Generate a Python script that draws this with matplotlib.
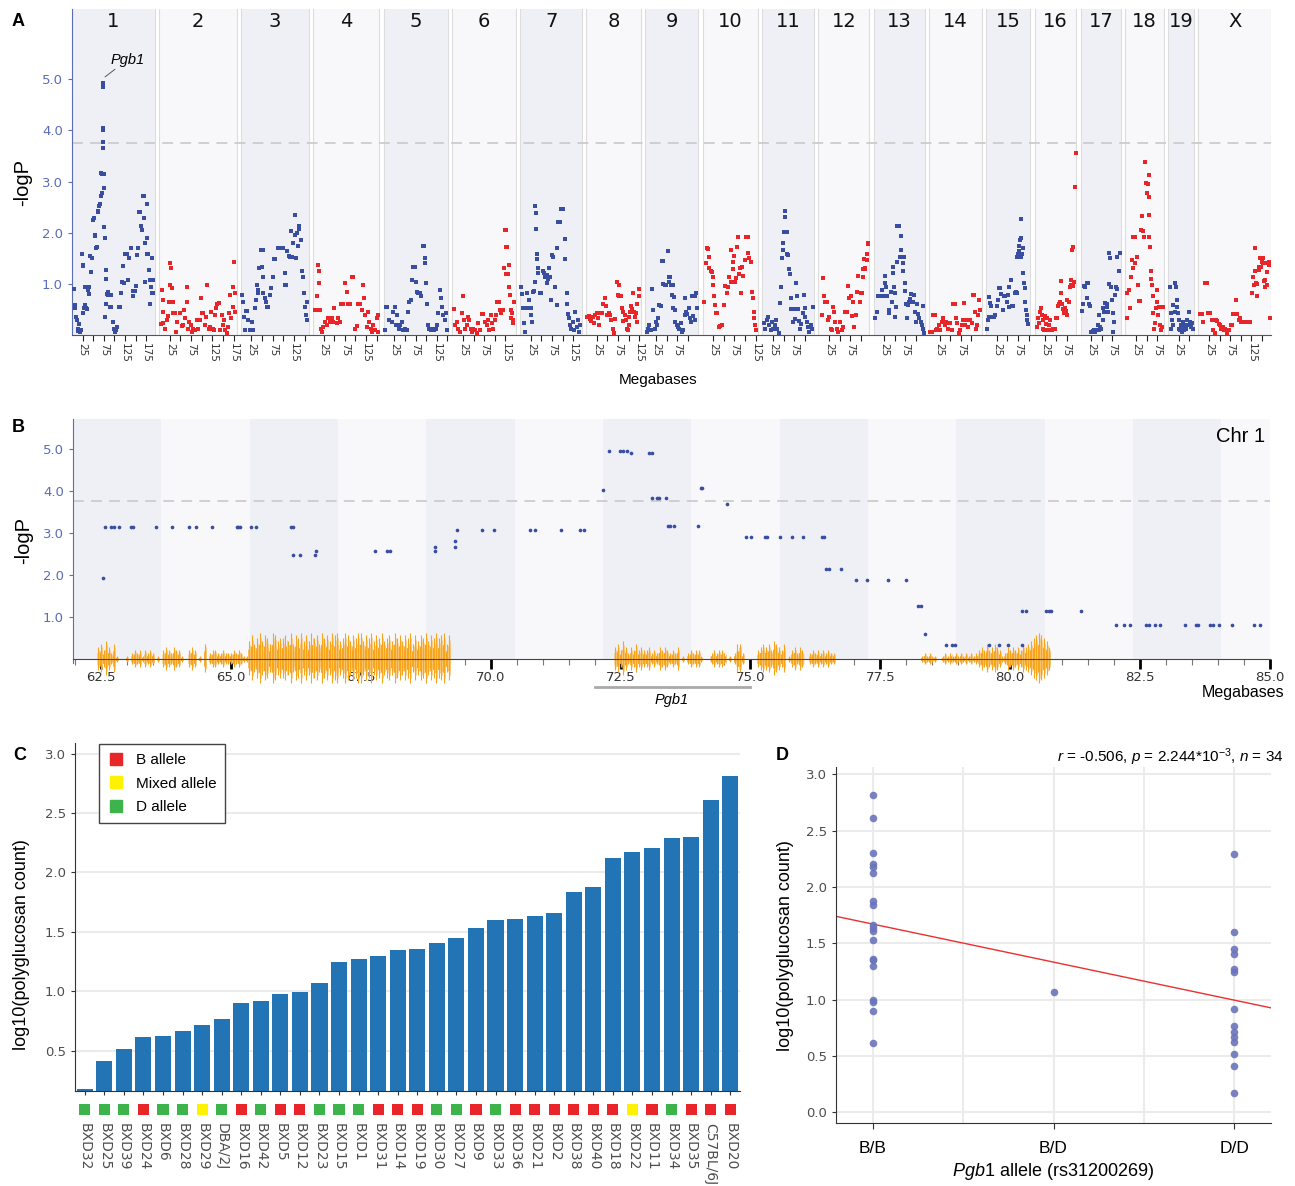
import numpy as np
import matplotlib.pyplot as plt
from matplotlib.lines import Line2D
from matplotlib.transforms import blended_transform_factory

plt.rcParams['font.family'] = 'Liberation Sans'
plt.rcParams['mathtext.fontset'] = 'custom'
plt.rcParams['mathtext.rm'] = 'Liberation Sans'
plt.rcParams['mathtext.it'] = 'Liberation Sans:italic'
plt.rcParams['mathtext.bf'] = 'Liberation Sans:bold'

# ---------------- panel A: genome-wide scan (Mb within chromosome, -logP) ----------------
chr_names = ['1', '2', '3', '4', '5', '6', '7', '8', '9', '10',
             '11', '12', '13', '14', '15', '16', '17', '18', '19', 'X']
chr_len = [195.5, 182.1, 160.0, 156.5, 151.8, 149.7, 145.4, 129.4, 124.6, 130.7,
           122.1, 120.1, 120.4, 124.9, 104.0, 98.2, 95.3, 90.7, 61.4, 171.0]
chr_side = ['B', 'D', 'B', 'D', 'B', 'D', 'B', 'D', 'B', 'D',
            'B', 'D', 'B', 'D', 'B', 'D', 'B', 'D', 'B', 'D']

chr1 = [(4.7, 0.90), (6, 0.52), (8, 0.58), (10, 0.35), (11, 0.28), (13, 0.12), (15, 0.08), (17, 0.20),
        (19, 0.05), (21, 0.10), (23.5, 1.59), (25, 1.35), (26, 1.36), (27, 0.42), (29, 0.52), (30.5, 0.94),
        (31.5, 0.58), (33, 0.52), (35, 0.50), (37.5, 0.88), (39, 0.79), (41, 0.93), (42.3, 1.54), (44, 1.22),
        (46, 1.51), (48.5, 2.25), (50, 2.25), (52, 2.28), (53.5, 1.95), (55, 1.93), (57, 1.70), (58, 1.71),
        (60.5, 2.41), (62, 2.43), (64, 2.53), (66, 2.56), (67.5, 2.71), (68, 3.16), (70, 3.15), (70.5, 2.78),
        (72, 4.00), (72.5, 4.05), (73, 3.78), (73.3, 3.65), (73.6, 4.86), (73.8, 4.93), (74.5, 3.15),
        (75.5, 2.88), (75, 2.10), (77, 1.89), (79, 1.27), (80, 1.10), (78, 0.35), (80.5, 0.60), (82, 0.80),
        (84, 0.77), (85.5, 0.84), (89.5, 0.55), (91, 0.78), (92.6, 0.55), (96, 0.24), (99, 0.12), (101, 0.05),
        (103, 0.09), (105, 0.16), (110, 0.54), (112, 0.54), (116, 0.81), (117.7, 1.04), (120.8, 1.35),
        (122.4, 1.02), (124.8, 1.59), (127.1, 1.59), (130.3, 1.59), (132.6, 1.07), (135, 1.50), (138.1, 1.69),
        (142.8, 0.76), (144.4, 0.86), (147.5, 0.86), (150.7, 0.95), (153.8, 1.56), (155.4, 1.69), (157, 2.41),
        (160.1, 2.41), (163.2, 2.12), (164.8, 2.05), (166.4, 2.71), (169.5, 2.71), (170.3, 2.28), (172.7, 1.79),
        (172.7, 1.04), (175.8, 2.56), (175.8, 1.59), (177.4, 1.89), (179.7, 1.59), (182.1, 1.27), (183.7, 1.08),
        (183.7, 0.61), (185.2, 0.94), (187.6, 1.50), (188.4, 0.81), (191.5, 0.81), (191.5, 1.07)]
chr2 = [(3.9, 0.21), (7, 0.88), (8.7, 0.67), (9.5, 0.45), (9.5, 0.22), (13.4, 0.12), (17.3, 0.29), (21.3, 0.37),
        (23.6, 0.65), (25.2, 1.40), (25.2, 0.97), (26.8, 1.30), (29.1, 0.91), (31.5, 0.65), (33, 0.42), (37, 0.42),
        (39.3, 0.06), (42.4, 0.25), (48.7, 0.42), (52.6, 0.17), (55, 0.19), (58.1, 0.48), (61.3, 0.32),
        (64.4, 0.65), (66, 0.94), (68.3, 0.12), (70.7, 0.25), (73.8, 0.19), (77, 0.06), (80.1, 0.12), (84, 0.09),
        (88, 0.29), (91.9, 0.12), (95.8, 0.29), (98.2, 0.71), (100.5, 0.42), (103.7, 0.42), (106.8, 0.19),
        (109.9, 0.35), (113.1, 0.97), (116.2, 0.12), (119.4, 0.16), (122.5, 0.45), (125.6, 0.12), (128.8, 0.09),
        (131.1, 0.39), (133.5, 0.52), (136.6, 0.61), (139.8, 0.63), (142.9, 0.09), (146.8, 0.39), (149.2, 0.19),
        (152.3, 0.29), (155.5, 0.09), (158.6, 0.03), (161.7, 0.16), (164.9, 0.43), (166.5, 0.78), (169.6, 0.32),
        (172.7, 0.94), (174.3, 0.55), (175.9, 1.43), (177.4, 0.45), (179, 0.81)]
chr3 = [(2.8, 0.78), (4.4, 0.65), (7.5, 0.35), (9.9, 0.09), (12.2, 0.47), (15.4, 0.47), (17.7, 0.29), (21.7, 0.09),
        (25.6, 0.25), (29.5, 0.09), (32.6, 0.52), (35.8, 0.68), (37.4, 0.97), (39.7, 0.88), (41.3, 0.81),
        (43.6, 1.30), (46.8, 1.66), (51.5, 1.65), (49.9, 1.33), (51.5, 1.14), (53.1, 0.81), (56.2, 0.71),
        (59.3, 0.65), (60.9, 0.54), (64.8, 0.54), (68.8, 0.78), (70.3, 0.91), (75, 1.14), (78.2, 1.48),
        (81.3, 1.48), (87.6, 1.69), (92.3, 1.69), (97, 1.69), (100.2, 1.69), (103.3, 0.97), (106.4, 0.97),
        (104.9, 1.20), (109.6, 1.63), (112.7, 1.54), (115.9, 1.53), (118.2, 2.04), (120.6, 1.53), (123.7, 1.79),
        (126.9, 2.35), (128.4, 1.95), (130, 1.50), (131.6, 1.99), (133.9, 1.73), (136.3, 2.07), (137.8, 2.12),
        (141, 1.86), (144.1, 1.24), (145.7, 1.14), (148.8, 0.81), (152, 0.55), (153.5, 0.39), (155.1, 0.65),
        (155.9, 0.29)]
chr4 = [(4.7, 0.48), (8.7, 0.75), (10.2, 0.48), (12.6, 1.37), (13.4, 1.24), (15, 1.01), (16.5, 0.48), (18.1, 0.12),
        (21.3, 0.06), (24.4, 0.16), (28.3, 0.25), (32.2, 0.19), (36.1, 0.32), (40.1, 0.25), (44, 0.32),
        (47.9, 0.25), (49.5, 0.52), (55.8, 0.22), (59.7, 0.32), (63.6, 0.25), (66.7, 0.61), (71.5, 0.61),
        (76.2, 1.01), (79.3, 0.84), (83.2, 0.60), (87.2, 0.60), (91.1, 1.14), (95, 1.14), (98.2, 0.12),
        (102.9, 0.17), (106.8, 0.60), (110.7, 0.60), (114.6, 0.48), (118.6, 0.97), (120.1, 0.71), (122.5, 0.39),
        (126.4, 0.16), (130.3, 0.45), (132.7, 0.25), (135.8, 0.12), (139, 0.06), (142.1, 0.19), (146, 0.09),
        (150, 0.32), (152.3, 0.39), (153.1, 0.06)]
chr5 = [(3.1, 0.09), (5.4, 0.55), (8.5, 0.55), (13.2, 0.29), (18.8, 0.25), (22.6, 0.45), (26.6, 0.55), (29, 0.19),
        (32, 0.39), (35.3, 0.12), (38.4, 0.19), (42.4, 0.25), (46.2, 0.09), (50.2, 0.12), (54.2, 0.09),
        (57.9, 0.45), (60.3, 0.65), (63.6, 0.68), (66.6, 1.07), (69.7, 1.33), (73, 1.33), (76.1, 1.04),
        (77.7, 0.84), (81.5, 0.81), (85.5, 0.81), (88.5, 0.75), (91.8, 1.74), (94.9, 1.74), (96.6, 1.50),
        (98, 1.40), (99.6, 1.01), (101.3, 0.61), (104.3, 0.19), (107.4, 0.12), (110.7, 0.09), (113, 0.12),
        (118.5, 0.09), (123.2, 0.12), (126.3, 0.19), (128.6, 0.42), (132.6, 0.88), (135, 0.71), (137.3, 0.55),
        (140.4, 0.39), (143.7, 0.29), (146.7, 0.42), (148.4, 0.09)]
chr6 = [(3.7, 0.50), (6.1, 0.19), (10, 0.25), (14, 0.12), (17.9, 0.06), (21.8, 0.42), (24.1, 0.76), (27.3, 0.29),
        (30.4, 0.12), (33.6, 0.19), (37.5, 0.35), (39.8, 0.29), (43, 0.12), (46.1, 0.06), (49.3, 0.12),
        (53.2, 0.09), (57.1, 0.04), (61, 0.22), (65, 0.09), (68.9, 0.41), (72.8, 0.41), (76.7, 0.24),
        (80.7, 0.19), (84.6, 0.29), (86.9, 0.09), (90.1, 0.39), (93.2, 0.22), (96.4, 0.12), (99.5, 0.29),
        (102.6, 0.39), (105.8, 0.65), (108.9, 0.65), (112.1, 0.48), (115.2, 0.42), (118.3, 0.48), (121.5, 1.30),
        (123, 2.05), (126.2, 2.05), (127, 1.71), (129.3, 1.71), (126.2, 1.19), (131.7, 1.19), (132.5, 1.37),
        (134, 0.93), (135.6, 0.78), (137.2, 0.48), (138.7, 0.32), (140.3, 0.42), (141.9, 0.22), (143.5, 0.29),
        (145, 0.65)]
chr7 = [(1.9, 0.93), (4.3, 0.80), (5.8, 0.52), (9, 0.22), (11.3, 0.06), (13.7, 0.52), (16.8, 0.81), (20, 0.68),
        (21.5, 0.52), (24.7, 0.52), (26.2, 0.39), (27, 0.25), (29.4, 0.84), (32.5, 0.86), (35.7, 1.04),
        (35.7, 2.52), (37.2, 2.38), (37.2, 2.08), (38.8, 1.48), (40.4, 1.59), (42.7, 1.30), (42.7, 1.20),
        (46.7, 0.81), (49.8, 0.81), (53, 1.24), (56.1, 1.20), (59.2, 1.14), (62.4, 1.17), (63.9, 1.01),
        (66.3, 1.10), (68.6, 1.30), (70.2, 1.14), (71.8, 0.68), (74.1, 1.56), (78.1, 1.53), (82.8, 0.94),
        (85.9, 1.69), (85.9, 0.58), (89, 2.20), (93.8, 2.20), (95.3, 2.46), (101.6, 2.46), (104.7, 1.88),
        (106.3, 1.48), (109.5, 0.81), (111, 0.61), (112.6, 0.41), (115.7, 0.32), (117.3, 0.19), (120.4, 0.12),
        (123.6, 0.25), (126.7, 0.09), (129.9, 0.45), (133, 0.16), (136.1, 0.29), (139.3, 0.06), (140.9, 0.19)]
chr8 = [(2.7, 0.34), (5.9, 0.37), (9, 0.30), (12.1, 0.27), (15.3, 0.35), (18.4, 0.22), (21.6, 0.39), (24.7, 0.43),
        (27.8, 0.32), (31, 0.19), (34.1, 0.43), (37.3, 0.43), (40.4, 0.61), (43.5, 0.71), (46.7, 0.56),
        (49.8, 0.39), (53, 0.42), (56.1, 0.39), (59.2, 0.29), (62.4, 0.12), (65.5, 0.04), (68.7, 0.30),
        (71.8, 1.04), (74.9, 0.78), (76.5, 0.97), (78.1, 0.76), (81.3, 0.76), (83.6, 0.52), (86, 0.45),
        (87.5, 0.27), (90.6, 0.39), (93.8, 0.29), (95.4, 0.12), (98.5, 0.09), (100.1, 0.35), (101.6, 0.19),
        (103.2, 0.45), (106.4, 0.56), (107.9, 0.50), (111.1, 0.81), (112.6, 0.45), (114.2, 0.34), (117.3, 0.42),
        (118.9, 0.25), (120.5, 0.61), (123.6, 0.75), (125.2, 0.89)]
chr9 = [(3, 0.06), (6.1, 0.12), (9.2, 0.19), (12.4, 0.09), (15.5, 0.89), (18.7, 0.48), (21.8, 0.12), (25, 0.25),
        (28.1, 0.19), (30.5, 0.32), (32.8, 0.58), (36, 0.56), (39.1, 1.45), (42.2, 1.45), (42.2, 0.99),
        (45.3, 0.97), (48.5, 0.97), (53.2, 1.63), (54.8, 1.14), (56.3, 1.04), (57.9, 1.14), (61.1, 0.97),
        (62.6, 0.78), (64.2, 0.97), (65.8, 0.52), (67.3, 0.73), (68.9, 0.48), (70.5, 0.25), (73.6, 0.19),
        (76.8, 0.16), (79.9, 0.12), (83, 0.22), (86.2, 0.06), (89.3, 0.09), (92.4, 0.39), (94, 0.71),
        (95.6, 0.45), (98.7, 0.41), (101.9, 0.52), (105, 0.32), (108.1, 0.25), (109.7, 0.76), (112.9, 0.37),
        (116, 0.29), (117.6, 0.75), (119.1, 0.82), (120.7, 0.52)]
chr10 = [(3.6, 0.65), (7.5, 1.40), (9.9, 1.69), (13, 1.67), (14.6, 1.53), (16.1, 1.30), (19.3, 1.25), (21.6, 1.22),
         (24, 1.14), (25.6, 0.97), (27.9, 0.76), (29.5, 0.58), (31.8, 0.42), (35, 0.42), (38.1, 0.16),
         (41.3, 0.17), (46, 0.19), (50.7, 0.58), (53.8, 0.95), (57, 0.81), (60.1, 0.94), (63.3, 1.14),
         (66.4, 1.04), (68, 1.65), (71.1, 1.28), (72.7, 1.43), (74.2, 1.54), (76.6, 1.04), (79, 1.12),
         (81.3, 1.71), (84.4, 1.91), (86.8, 1.19), (88.4, 1.30), (89.9, 0.81), (93.1, 1.33), (96.2, 1.15),
         (99.3, 1.46), (102.5, 1.91), (106.4, 1.92), (108, 1.61), (110.3, 1.50), (113.5, 1.43), (116.6, 0.84),
         (119, 0.71), (120.6, 0.45), (122.1, 0.32), (123.7, 0.19), (126, 0.09)]
chr11 = [(4, 0.22), (7.1, 0.12), (10.3, 0.29), (13.4, 0.35), (16.5, 0.19), (19.7, 0.09), (22.8, 0.25), (26, 0.12),
         (29.1, 0.19), (32.2, 0.29), (35.4, 0.12), (38.5, 0.04), (41.7, 0.63), (44.8, 0.94), (46.4, 1.50),
         (48, 1.66), (49.5, 1.80), (51.1, 2.02), (52.6, 2.30), (54.2, 2.43), (55.8, 2.02), (57.4, 2.02),
         (58.9, 1.59), (61.3, 1.56), (62.1, 1.28), (65.2, 1.19), (66.8, 0.71), (68.4, 0.50), (71.5, 0.25),
         (74.6, 0.50), (77.8, 0.30), (79.3, 1.01), (82.5, 0.76), (84.1, 0.50), (85.6, 0.27), (88.8, 0.12),
         (91.9, 0.21), (95, 0.42), (98.2, 0.78), (99.7, 0.52), (101.3, 0.35), (104.5, 0.24), (107.6, 0.16),
         (110.7, 0.06), (113.9, 0.19), (117, 0.12), (120.2, 0.54)]
chr12 = [(7.7, 0.39), (11.6, 1.12), (13.9, 0.75), (16.3, 0.65), (19.5, 0.65), (23.4, 0.29), (25.7, 0.35), (29, 0.12),
         (32, 0.09), (35.1, 0.55), (36.7, 0.45), (39.8, 0.25), (43.1, 0.12), (46.9, 0.06), (50.9, 0.24),
         (54.9, 0.09), (58.6, 0.16), (62.6, 0.45), (66.6, 0.45), (70.4, 0.95), (72.8, 0.71), (76.1, 0.75),
         (78.4, 0.37), (80.8, 0.65), (83.8, 0.16), (88.6, 0.39), (91.6, 0.84), (94, 1.15), (98, 0.65),
         (101, 0.81), (102, 0.81), (104.3, 1.28), (105.7, 1.14), (107.4, 1.48), (109.7, 1.30), (110.5, 1.28),
         (113.7, 1.59), (113.7, 1.46), (116.8, 1.79), (117.5, 1.78)]
chr13 = [(3.3, 0.32), (7.3, 0.45), (11.2, 0.75), (15.1, 0.75), (19, 0.88), (23, 0.75), (26.1, 1.01), (27.7, 1.15),
         (29.2, 0.94), (32.4, 0.75), (35.5, 0.48), (37.1, 0.42), (40.2, 0.84), (43.4, 0.65), (44.9, 1.20),
         (46.5, 1.33), (48.1, 0.93), (49.6, 0.82), (51.2, 0.35), (52.8, 0.54), (54.4, 1.43), (54.4, 2.13),
         (60.6, 2.13), (62.2, 1.52), (63.8, 1.93), (65.3, 1.65), (66.9, 1.53), (68.5, 1.24), (70.1, 1.40),
         (71.6, 1.52), (73.2, 0.86), (74.8, 1.02), (76.3, 0.61), (77.9, 0.32), (81, 0.58), (84.2, 0.65),
         (85.8, 0.69), (88.9, 0.80), (92, 0.65), (95.2, 0.78), (97.5, 0.45), (99.9, 0.25), (103, 0.60),
         (105.4, 0.41), (107.7, 0.32), (110.9, 0.24), (114, 0.19), (115.6, 0.56), (117.2, 0.12), (118.7, 0.04)]
chr14 = [(2.4, 0.06), (6.3, 0.06), (10.2, 0.39), (14.1, 0.39), (16.5, 0.09), (19.6, 0.12), (22.8, 0.19), (25.9, 0.09),
         (29.8, 0.25), (33.8, 0.32), (37.7, 0.19), (40, 0.24), (43.2, 0.22), (45.5, 0.12), (49.5, 0.22),
         (53.4, 0.09), (57.3, 0.61), (61.2, 0.61), (63.6, 0.32), (66.7, 0.22), (69.9, 0.04), (73, 0.09),
         (76.9, 0.19), (80.9, 0.29), (82.4, 0.63), (85.6, 0.19), (88.7, 0.29), (92.6, 0.16), (96.6, 0.29),
         (100.5, 0.22), (102.8, 0.78), (106, 0.78), (108.3, 0.45), (110.7, 0.12), (113.8, 0.19), (116.2, 0.39),
         (118.5, 0.68), (120.1, 0.48)]
chr15 = [(2.5, 0.12), (4, 0.29), (5.6, 0.35), (7.2, 0.73), (8.8, 0.63), (10.3, 0.56), (12.7, 0.35), (15, 0.35),
         (18.2, 0.35), (21.3, 0.39), (24.5, 0.56), (27.6, 0.67), (29.2, 0.91), (32.3, 0.91), (35.4, 0.80),
         (38.6, 0.48), (41.7, 0.76), (44.9, 0.76), (48, 0.65), (51.1, 0.78), (52.7, 0.93), (54.3, 0.55),
         (57.4, 1.07), (60.6, 0.56), (63.7, 0.56), (66.8, 0.82), (70, 0.84), (71.6, 0.81), (73.1, 1.53),
         (74.7, 1.59), (76.3, 1.73), (77.8, 1.63), (79.4, 1.86), (81, 1.89), (81, 2.26), (82.5, 1.53),
         (84.1, 1.59), (85.7, 1.69), (87.3, 1.20), (88.8, 1.01), (90.4, 0.91), (92, 0.65), (93.5, 0.48),
         (95.1, 0.39), (96.7, 0.29), (98.2, 0.21)]
chr16 = [(4.7, 0.16), (7.8, 0.32), (11, 0.22), (12.5, 0.45), (14.9, 0.52), (17.2, 0.39), (18.8, 0.29), (20.4, 0.12),
         (22.7, 0.09), (24.3, 0.37), (26.6, 0.21), (28.2, 0.32), (30.6, 0.09), (32.9, 0.19), (36.1, 0.29),
         (40, 0.09), (43.9, 0.12), (47.8, 0.12), (50.2, 0.32), (53.3, 0.32), (55.7, 0.56), (58, 0.61),
         (59.6, 0.65), (61.2, 0.81), (62.7, 1.06), (64.3, 0.61), (67.5, 0.50), (69.8, 0.42), (71.4, 0.52),
         (73.7, 0.47), (75.3, 0.39), (76.9, 0.68), (80, 0.65), (83.2, 0.94), (84.7, 1.07), (86.3, 0.97),
         (87.9, 1.66), (89.4, 1.71), (91, 0.95), (92.6, 1.04), (95.7, 2.90), (96.5, 3.56)]
chr17 = [(3.3, 0.47), (4.9, 0.61), (8, 0.95), (11.2, 0.93), (14.3, 1.02), (17.4, 1.02), (14.3, 0.71), (19.1, 0.61),
         (22.2, 0.56), (25.3, 0.06), (28.4, 0.08), (31.6, 0.09), (34.7, 0.06), (37.9, 0.09), (41, 0.19),
         (42.6, 0.39), (44.1, 0.09), (45.7, 0.16), (48.8, 0.12), (52, 0.29), (53.6, 0.52), (55.9, 0.45),
         (58.3, 0.63), (61.4, 0.60), (63, 0.55), (64.5, 0.45), (66.1, 0.99), (67.7, 1.61), (69.3, 1.50),
         (70.8, 0.94), (73.2, 0.68), (75.5, 0.42), (77.1, 0.06), (78.7, 0.25), (81, 0.78), (83.4, 0.93),
         (85, 0.89), (86.5, 1.53), (89.6, 1.25), (92.8, 1.61)]
chr18 = [(3.2, 0.32), (4.8, 0.81), (7.9, 0.88), (11.1, 0.52), (12.6, 1.14), (15, 1.46), (17.3, 1.30), (18.9, 1.91),
         (22.8, 1.91), (23.6, 1.40), (26.8, 1.53), (28.9, 0.97), (31.5, 0.66), (34.6, 0.66), (37.1, 2.05),
         (39.3, 2.33), (42.5, 2.04), (44.8, 1.91), (47.2, 3.39), (48.7, 2.97), (50.3, 2.77), (53.4, 2.95),
         (55, 3.13), (56.6, 2.69), (56.6, 2.35), (56.6, 1.91), (57.4, 1.71), (59.7, 1.24), (61.3, 1.10),
         (62.1, 0.97), (64.4, 0.75), (66, 0.42), (68.3, 0.12), (70.7, 0.22), (72.3, 0.52), (73.9, 0.88),
         (75.4, 0.65), (77.8, 0.39), (80.1, 0.55), (81.7, 0.19), (84.1, 0.09), (85.6, 0.16), (88, 0.54)]
chr19 = [(4.5, 0.93), (6.1, 0.42), (7.6, 0.12), (9.2, 0.29), (10.7, 0.58), (12.3, 0.19), (15.4, 0.45), (17, 1.02),
         (18.6, 0.93), (20.2, 0.68), (21.7, 0.55), (23.3, 0.42), (24.9, 0.29), (26.4, 0.12), (28, 0.09),
         (29.6, 0.19), (31.9, 0.06), (34.3, 0.12), (35.9, 0.25), (37.4, 0.09), (39.8, 0.19), (42.1, 0.12),
         (43.7, 0.29), (46.8, 0.19), (50, 0.45), (51.6, 0.25), (53.9, 0.16), (56.3, 0.22), (58.6, 0.12)]
chrX = [(3.7, 0.41), (7.6, 0.41), (11.6, 0.25), (15.5, 1.02), (19.4, 1.02), (23.3, 0.43), (27.3, 0.43), (31.2, 0.29),
        (35.1, 0.09), (39, 0.04), (41.4, 0.29), (44.5, 0.27), (47.7, 0.21), (50.8, 0.19), (54, 0.12),
        (57.1, 0.16), (60.2, 0.09), (63.4, 0.12), (66.5, 0.04), (69.6, 0.10), (72.8, 0.09), (75.9, 0.19),
        (79.1, 0.19), (82.2, 0.41), (85.3, 0.41), (88.5, 0.68), (91.6, 0.41), (94.8, 0.29), (97.9, 0.32),
        (101, 0.24), (105.8, 0.24), (109.7, 0.24), (113.6, 0.24), (117.5, 0.24), (121.5, 0.24), (126.2, 0.81),
        (129.3, 1.14), (130.9, 0.97), (132.4, 1.24), (134, 1.69), (135.6, 1.02), (137.2, 0.75), (138.7, 0.99),
        (141.9, 1.27), (143.4, 1.33), (145, 1.50), (146.6, 1.33), (148.2, 1.32), (149.7, 1.43), (151.3, 1.40),
        (152.9, 1.50), (154.4, 1.06), (156, 0.93), (157.6, 1.07), (159.2, 1.40), (160.7, 0.97), (162.3, 1.22),
        (163.9, 1.40), (165.4, 1.37), (167, 1.43), (168.6, 0.32)]
scan = [chr1, chr2, chr3, chr4, chr5, chr6, chr7, chr8, chr9, chr10,
        chr11, chr12, chr13, chr14, chr15, chr16, chr17, chr18, chr19, chrX]
threshold = 3.75

# ---------------- panel B: chr 1 zoom ----------------
b_mb = [62.54, 62.58, 62.70, 62.74, 62.85, 63.08, 63.11, 63.56, 63.86, 64.19, 64.32, 64.64, 65.11, 65.14, 65.18,
        65.39, 65.49, 66.15, 66.19, 66.19, 66.33, 66.61, 66.64, 67.77, 68.00, 68.07, 68.93, 68.93, 69.32, 69.32,
        69.36, 69.84, 70.07, 70.76, 70.85, 71.35, 71.72, 71.80, 72.17, 72.27, 72.49, 72.55, 72.63, 72.70, 73.05,
        73.11, 73.11, 73.20, 73.24, 73.38, 73.41, 73.45, 73.52, 73.99, 74.04, 74.07, 74.55, 74.92, 75.01, 75.28,
        75.32, 75.56, 75.79, 76.02, 76.37, 76.42, 76.45, 76.51, 76.74, 77.03, 77.24, 77.64, 78.00, 78.23, 78.29,
        78.35, 78.76, 78.87, 78.94, 79.60, 79.78, 79.95, 80.22, 80.22, 80.30, 80.69, 80.74, 80.78, 81.36, 82.03,
        82.19, 82.31, 82.62, 82.67, 82.78, 82.88, 83.36, 83.57, 83.61, 83.85, 83.90, 84.02, 84.27, 84.70, 84.81]
b_lp = [1.93, 3.15, 3.15, 3.15, 3.15, 3.15, 3.15, 3.15, 3.15, 3.15, 3.15, 3.15, 3.15, 3.15, 3.15,
        3.15, 3.15, 3.15, 3.15, 2.48, 2.48, 2.48, 2.58, 2.58, 2.58, 2.58, 2.66, 2.58, 2.66, 2.80,
        3.07, 3.07, 3.07, 3.07, 3.07, 3.07, 3.07, 3.07, 4.01, 4.94, 4.94, 4.94, 4.94, 4.90, 4.90,
        4.90, 3.82, 3.82, 3.82, 3.82, 3.17, 3.17, 3.17, 3.17, 4.06, 4.06, 3.68, 2.91, 2.91, 2.91,
        2.91, 2.91, 2.91, 2.91, 2.91, 2.91, 2.13, 2.13, 2.13, 1.88, 1.88, 1.88, 1.88, 1.27, 1.27,
        0.60, 0.33, 0.33, 0.33, 0.33, 0.33, 0.33, 0.33, 1.13, 1.13, 1.13, 1.13, 1.13, 1.13, 0.80,
        0.80, 0.80, 0.80, 0.80, 0.80, 0.80, 0.80, 0.80, 0.80, 0.80, 0.80, 0.80, 0.80, 0.80, 0.80]
# orange track: amplitude digit per 0.05 Mb bin, from 62.0 Mb
snp_track = ("00000000045364251000" "10232313232010343243" "31003430105023322322" "23232116857968759867"
             "78695879686978597869" "89679868799687968796" "78697868795868796879" "78958000000000000000"
             "00000000000000000000" "00000000000000000000" "00000000453642435343" "34232434323240102323"
             "31000232332010255200" "00034545365435013424" "30023232323220000000" "00000000000000000000"
             "00000012121100121212" "12121212343534543124" "34343545678987640000" "00000000000000000000"
             "00000000000000000000" "00000000000000000000" "00000000000000000000")
gene_name = 'Pgb1'
gene_span = (72.0, 75.0)

# ---------------- panels C & D: polyglucosan counts ----------------
strains = ['BXD32', 'BXD25', 'BXD39', 'BXD24', 'BXD6', 'BXD28', 'BXD29', 'DBA/2J', 'BXD16', 'BXD42', 'BXD5',
           'BXD12', 'BXD23', 'BXD15', 'BXD1', 'BXD31', 'BXD14', 'BXD19', 'BXD30', 'BXD27', 'BXD9', 'BXD33',
           'BXD36', 'BXD21', 'BXD2', 'BXD38', 'BXD40', 'BXD18', 'BXD22', 'BXD11', 'BXD34', 'BXD35',
           'C57BL/6J', 'BXD20']
poly = [0.175, 0.414, 0.515, 0.616, 0.624, 0.667, 0.717, 0.767, 0.902, 0.919, 0.978, 0.995, 1.071, 1.248,
        1.273, 1.298, 1.348, 1.357, 1.407, 1.449, 1.533, 1.601, 1.609, 1.635, 1.660, 1.837, 1.879, 2.123,
        2.174, 2.207, 2.292, 2.300, 2.612, 2.814]
allele = ['D', 'D', 'D', 'B', 'D', 'D', 'M', 'D', 'B', 'D', 'B', 'B', 'D', 'D', 'D', 'B', 'B', 'B', 'D', 'D',
          'B', 'D', 'B', 'B', 'B', 'B', 'B', 'B', 'M', 'B', 'D', 'B', 'B', 'B']
snp_geno = ['D/D', 'D/D', 'D/D', 'B/B', 'D/D', 'D/D', 'D/D', 'D/D', 'B/B', 'D/D', 'B/B', 'B/B', 'B/D', 'D/D',
            'D/D', 'B/B', 'B/B', 'B/B', 'D/D', 'D/D', 'B/B', 'D/D', 'B/B', 'B/B', 'B/B', 'B/B', 'B/B', 'B/B',
            'B/B', 'B/B', 'D/D', 'B/B', 'B/B', 'B/B']
geno_order = ['B/B', 'B/D', 'D/D']
allele_names = {'B': 'B allele', 'M': 'Mixed allele', 'D': 'D allele'}

# ---------------- styling ----------------
W, H = 1295, 1186
BLUE = '#3a4ea1'
RED = '#e8262a'
AXBLUE = '#5a6db6'
ORANGE = '#f7a51d'
allele_col = {'B': '#e8262a', 'M': '#fff200', 'D': '#3cb44b'}
side_col = {'B': BLUE, 'D': RED}


def fx(px):
    return px / W


def fy(py):
    return 1 - py / H


fig = plt.figure(figsize=(W / 100, H / 100), dpi=100)

# ======== A ========
axA = fig.add_axes([fx(72), fy(334.7), (1271 - 72) / W, (334.7 - 9) / H])
gap = 10
starts = np.concatenate([[0], np.cumsum(np.array(chr_len[:-1]) + gap)])
total = starts[-1] + chr_len[-1]
ticks, labels = [], []
for i, (s, L) in enumerate(zip(starts, chr_len)):
    axA.axvspan(s, s + L, facecolor='#eff0f6' if i % 2 == 0 else '#f8f8fb', lw=0, zorder=0)
    axA.axvline(s, color='#dddddd', lw=0.8, zorder=0.5)
    axA.axvline(s + L, color='#dddddd', lw=0.8, zorder=0.5)
    axA.text(s + L / 2, 6.13, chr_names[i], ha='center', va='center', fontsize=14,
             family='DejaVu Sans', color='#111111')
    pts = np.array(scan[i])
    axA.scatter(s + pts[:, 0], pts[:, 1], s=6, marker='s', color=side_col[chr_side[i]], lw=0, zorder=3)
    for k in range(25, int(L), 25):
        ticks.append(s + k)
        labels.append(str(k) if (k // 25) % 2 == 1 else '')
axA.axhline(threshold, color='#cccccc', lw=1.3, dashes=(6, 4), zorder=1)
axA.set_xlim(0, total)
axA.set_ylim(0, 6.38)
axA.set_xticks(ticks)
axA.set_xticklabels(labels)
axA.tick_params(axis='x', length=4, color='#222222', labelsize=7.5, labelrotation=270, labelcolor='#333333',
                pad=2, labelfontfamily='DejaVu Sans')
axA.set_yticks([1, 2, 3, 4, 5])
axA.set_yticklabels(['1.0', '2.0', '3.0', '4.0', '5.0'])
axA.tick_params(axis='y', length=3, color=AXBLUE, labelcolor=AXBLUE, labelsize=9.5, labelfontfamily='DejaVu Sans')
for sp in ['top', 'right']:
    axA.spines[sp].set_visible(False)
axA.spines['left'].set_color(AXBLUE)
axA.spines['bottom'].set_color('#555555')
axA.annotate(gene_name, xy=(73.8 + 4, 5.05), xytext=(91, 5.39), fontsize=10.5, style='italic',
             va='center', ha='left', arrowprops=dict(arrowstyle='-', color='#555555', lw=0.7, shrinkA=0, shrinkB=0))
fig.text(fx(658), fy(380), 'Megabases', ha='center', va='center', fontsize=11)
fig.text(fx(23), fy(182), '-logP', ha='center', va='center', rotation=90, fontsize=14.5)
fig.text(fx(18), fy(22), 'A', ha='center', va='center', fontsize=13, weight='bold')

# ======== B ========
axB = fig.add_axes([fx(73), fy(690.5), (1270 - 73) / W, (690.5 - 419) / H])
x0, x1 = 61.96, 85.0
ytop = 5.71
edges = np.arange(x0, x1 + 1.7, 1.7)
for k in range(len(edges) - 1):
    axB.fill_between([edges[k], min(edges[k + 1], x1)], 0, ytop,
                     color='#eff0f6' if k % 2 == 0 else '#f8f8fb', lw=0, zorder=0)
axB.axhline(threshold, color='#cccccc', lw=1.3, dashes=(6, 4), zorder=1)
amp = np.array([int(c) for c in snp_track]) * 0.07
xs = 62.0 + 0.05 * np.arange(len(amp))
keep = amp > 0
# dense core of the track plus spikes out to the read amplitude
axB.fill_between(xs, -0.5 * amp, 0.55 * amp, step='mid', color=ORANGE, lw=0, zorder=2)
axB.vlines(xs[keep], -0.9 * amp[keep], amp[keep], color=ORANGE, lw=0.8, zorder=2)
axB.vlines(xs[keep] + 0.02, -0.7 * amp[keep], 0.8 * amp[keep], color='#fbc877', lw=0.6, zorder=2)
axB.axhline(0.0, color=ORANGE, lw=0.6, zorder=2)
axB.scatter(b_mb, b_lp, s=7, color=BLUE, lw=0, zorder=4)
axB.set_xlim(x0, x1)
axB.set_ylim(-0.75, ytop)
axB.spines['bottom'].set_position(('data', 0))
axB.spines['bottom'].set_color('#444444')
axB.spines['bottom'].set_zorder(3)
for sp in ['top', 'right']:
    axB.spines[sp].set_visible(False)
axB.spines['left'].set_color(AXBLUE)
axB.spines['left'].set_bounds(-0.1, ytop)
axB.set_xticks(np.arange(62.5, 85.01, 2.5))
axB.set_xticklabels(['%.1f' % v for v in np.arange(62.5, 85.01, 2.5)])
axB.set_xticks(np.arange(62.0, 85.01, 0.5), minor=True)
axB.tick_params(axis='x', which='major', length=7, width=2, color='black', labelsize=9.5, labelcolor='#333333',
                pad=2, labelfontfamily='DejaVu Sans')
axB.tick_params(axis='x', which='minor', length=4, width=0.8, color='#777777')
axB.set_yticks([1, 2, 3, 4, 5])
axB.set_yticklabels(['1.0', '2.0', '3.0', '4.0', '5.0'])
axB.tick_params(axis='y', length=3, color=AXBLUE, labelcolor=AXBLUE, labelsize=9.5, labelfontfamily='DejaVu Sans')
axB.plot(gene_span, [-0.67, -0.67], color='#aaaaaa', lw=2, clip_on=False, zorder=3)
fig.text(fx(672), fy(700), gene_name, ha='center', va='center', fontsize=10.5, style='italic')
fig.text(fx(1265), fy(437), 'Chr 1', ha='right', va='center', fontsize=14.5)
fig.text(fx(1284), fy(693), 'Megabases', ha='right', va='center', fontsize=11.5)
fig.text(fx(24), fy(540), '-logP', ha='center', va='center', rotation=90, fontsize=14.5)
fig.text(fx(18), fy(428), 'B', ha='center', va='center', fontsize=13, weight='bold')

# ======== C ========
axC = fig.add_axes([fx(75), fy(1091), (740 - 75) / W, (1091 - 743) / H])
xc = np.arange(len(strains))
axC.bar(xc, poly, width=0.82, color='#2274b5', zorder=2)
axC.set_xlim(-0.5, len(strains) - 0.5)
axC.set_ylim(0.16, 3.09)
axC.set_yticks([0.5, 1.0, 1.5, 2.0, 2.5, 3.0])
axC.set_yticklabels(['0.5', '1.0', '1.5', '2.0', '2.5', '3.0'])
axC.grid(axis='y', color='#ebebeb', lw=1.5)
axC.set_axisbelow(True)
axC.set_xticks(xc)
axC.set_xticklabels(strains)
axC.tick_params(axis='x', length=3, color='#333333', labelsize=10, labelrotation=270, labelcolor='#4d4d4d',
                pad=20, labelfontfamily='DejaVu Sans')
axC.tick_params(axis='y', length=3, color='#333333', labelsize=9.5, labelcolor='#4d4d4d',
                labelfontfamily='DejaVu Sans')
for sp in ['top', 'right']:
    axC.spines[sp].set_visible(False)
for sp in ['left', 'bottom']:
    axC.spines[sp].set_color('#333333')
trans = blended_transform_factory(axC.transData, axC.transAxes)
axC.scatter(xc, np.full(len(xc), -0.052), transform=trans, marker='s', s=64,
            c=[allele_col[a] for a in allele], lw=0, clip_on=False, zorder=3)
handles = [Line2D([], [], marker='s', ls='', color=allele_col[k], markersize=9) for k in ['B', 'M', 'D']]
leg = axC.legend(handles, [allele_names[k] for k in ['B', 'M', 'D']], loc='upper left',
                 bbox_to_anchor=(0.036, 0.997), borderaxespad=0, fancybox=False, framealpha=1,
                 edgecolor='#444444', fontsize=11, handlelength=1.0, handletextpad=0.8, labelspacing=0.62,
                 borderpad=0.6)
leg.get_frame().set_linewidth(1.0)
fig.text(fx(22), fy(945), 'log10(polyglucosan count)', ha='center', va='center', rotation=90, fontsize=13)
fig.text(fx(20), fy(755), 'C', ha='center', va='center', fontsize=13, weight='bold')

# ======== D ========
axD = fig.add_axes([fx(836), fy(1123), (1271 - 836) / W, (1123 - 767) / H])
gx = np.array([geno_order.index(g) + 1 for g in snp_geno], dtype=float)
gy = np.array(poly)
slope, icpt = np.polyfit(gx, gy, 1)
xl = np.array([0.797, 3.203])
axD.plot(xl, icpt + slope * xl, color='#e8302e', lw=1, zorder=2)
axD.scatter(gx, gy, s=30, color='#6b74ba', alpha=0.9, lw=0, zorder=3)
axD.set_xlim(0.797, 3.203)
axD.set_ylim(-0.095, 3.065)
axD.set_xticks([1, 2, 3])
axD.set_xticklabels(geno_order)
axD.set_xticks([1.5, 2.5], minor=True)
axD.set_yticks([0.0, 0.5, 1.0, 1.5, 2.0, 2.5, 3.0])
axD.set_yticklabels(['0.0', '0.5', '1.0', '1.5', '2.0', '2.5', '3.0'])
axD.grid(True, which='major', color='#ebebeb', lw=1.5)
axD.grid(True, which='minor', axis='x', color='#ebebeb', lw=1.5)
axD.set_axisbelow(True)
axD.tick_params(which='minor', length=0)
axD.tick_params(axis='x', which='major', length=4, color='#333333', labelsize=12.5, pad=9)
axD.tick_params(axis='y', length=3, color='#333333', labelsize=9.5, labelcolor='#4d4d4d',
                labelfontfamily='DejaVu Sans')
for sp in ['top', 'right']:
    axD.spines[sp].set_visible(False)
for sp in ['left', 'bottom']:
    axD.spines[sp].set_color('#333333')
fig.text(fx(1284), fy(757), r'$r$ = %.3f, $p$ = 2.244*10$^{-3}$, $n$ = %d' % (-0.506, len(poly)),
         ha='right', va='center', fontsize=11)
fig.text(fx(1053), fy(1172), r'$\mathit{Pgb1}$ allele (rs31200269)', ha='center', va='center', fontsize=13)
fig.text(fx(785), fy(946), 'log10(polyglucosan count)', ha='center', va='center', rotation=90, fontsize=13)
fig.text(fx(782), fy(755), 'D', ha='center', va='center', fontsize=13, weight='bold')

fig.savefig('out.png', dpi=100, facecolor='white')
